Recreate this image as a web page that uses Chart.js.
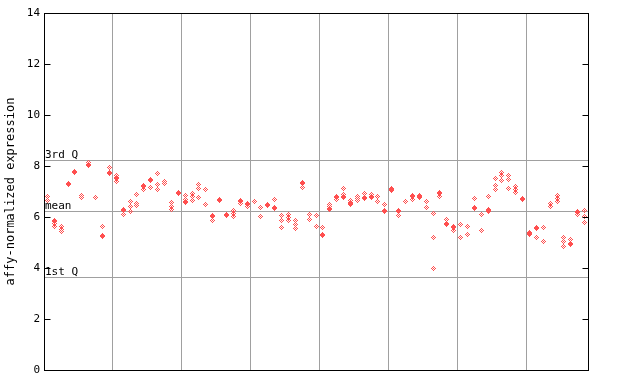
<!DOCTYPE html>
<html>
<head>
<meta charset="utf-8">
<script src="https://cdn.jsdelivr.net/npm/chart.js@4"></script>
<style>
  html, body { margin: 0; padding: 0; background: #ffffff; }
  canvas { display: block; }
</style>
</head>
<body>
<canvas id="chart" width="640" height="384"></canvas>
<script>
/* -------------------------------------------------------------------------- */
/* Data                                                                       */
/* -------------------------------------------------------------------------- */
const yTicks = [0, 2, 4, 6, 8, 10, 12, 14];
const groupEdges = [9.5, 19.5, 29.5, 39.5, 49.5, 59.5, 69.5];

const quartileLines = [
  { label: '3rd Q', value: 8.24 },
  { label: 'mean', value: 6.22 },
  { label: '1st Q', value: 3.63 }
];

// one value per sample (null where there is none)
const sampleValues = [
  null, 5.85, null, 7.28, 7.78, null, 8.03, null, 5.25, 7.74,
  7.52, 6.28, null, null, 7.23, 7.46, null, null, null, 6.93,
  6.60, null, null, null, 6.04, 6.68, 6.08, null, 6.64, 6.52,
  null, null, 6.48, 6.36, null, null, null, 7.35, null, null,
  5.29, 6.32, 6.80, 6.80, 6.56, null, 6.76, 6.80, null, 6.24,
  7.06, 6.24, null, 6.82, 6.77, null, null, 6.95, 5.72, 5.59,
  null, null, 6.36, null, 6.22, null, null, null, null, 6.72,
  5.33, 5.58, null, null, null, null, 4.94, 6.21, null
];

// replicate measurements per sample
const replicateValues = [
  [6.80, 6.63], [5.73, 5.62], [5.63, 5.52, 5.45], [], [],
  [6.86, 6.76], [8.15], [6.77], [5.64], [7.95],
  [7.62, 7.40], [6.11], [6.61, 6.40, 6.22], [6.90, 6.54, 6.44], [7.06],
  [7.16], [7.69, 7.27, 7.07], [7.40, 7.33], [6.56, 6.43, 6.30], [],
  [6.85, 6.70], [6.93, 6.82, 6.64], [7.26, 7.12, 6.77], [7.06, 6.50], [5.88],
  [], [], [6.27, 6.14, 6.02], [6.54], [6.42],
  [6.59], [6.36, 6.02], [], [6.67], [6.04, 5.85, 5.59],
  [6.11, 6.00, 5.85], [5.88, 5.72, 5.55], [7.16], [6.11, 5.91], [6.04, 5.64],
  [5.59], [6.50, 6.40], [6.69], [7.12, 6.90], [6.63, 6.48],
  [6.82, 6.72, 6.63], [6.93], [6.89], [6.80, 6.60], [6.48],
  [7.12], [6.06], [6.61], [6.69], [6.86],
  [6.61, 6.38], [6.14, 5.20, 3.98], [6.82], [5.91], [5.49],
  [5.71, 5.20], [5.64, 5.32], [6.73], [6.11, 5.49], [6.82, 6.30],
  [7.52, 7.23, 7.09], [7.75, 7.62, 7.45], [7.61, 7.48, 7.12], [7.19, 7.06, 6.95], [],
  [5.40], [5.20], [5.59, 5.03], [6.54, 6.40], [6.86, 6.73, 6.61],
  [5.20, 5.03, 4.86], [5.12], [6.08], [6.24, 6.02, 5.80]
];

/* -------------------------------------------------------------------------- */
/* Pixel diamond markers                                                      */
/* -------------------------------------------------------------------------- */
function makeMarker(rows, color) {
  const c = document.createElement('canvas');
  c.width = rows[0].length;
  c.height = rows.length;
  const g = c.getContext('2d');
  g.fillStyle = color;
  rows.forEach((row, j) => {
    [...row].forEach((ch, i) => { if (ch === 'X') g.fillRect(i, j, 1, 1); });
  });
  return c;
}

const RED = '#ff4f4f';
const solidMarker = makeMarker([
  '..X..',
  '.XXX.',
  'XXXXX',
  'XXXXX',
  '.XXX.',
  '..X..'
], RED);
const checkMarker = makeMarker([
  '..X..',
  '.X.X.',
  'X.X.X',
  '.X.X.',
  '..X..'
], RED);

const FONT = "'DejaVu Sans Mono', monospace";

/* -------------------------------------------------------------------------- */
/* Frame, inward ticks and quartile lines                                     */
/* -------------------------------------------------------------------------- */
const decor = {
  id: 'decor',
  beforeDatasetsDraw(chart) {
    const { ctx, chartArea: a, scales: { y } } = chart;
    ctx.save();
    ctx.strokeStyle = '#a0a0a0';
    ctx.lineWidth = 1;
    ctx.fillStyle = '#000000';
    ctx.font = '11px ' + FONT;
    ctx.textBaseline = 'bottom';
    quartileLines.forEach(q => {
      const py = Math.round(y.getPixelForValue(q.value)) + 0.5;
      ctx.beginPath();
      ctx.moveTo(a.left, py);
      ctx.lineTo(a.right, py);
      ctx.stroke();
      ctx.fillText(q.label, a.left + 1, py);
    });
    ctx.restore();
    ctx.imageSmoothingEnabled = false;
  },
  afterDatasetsDraw(chart) {
    const { ctx, chartArea: a, scales: { y } } = chart;
    ctx.save();
    ctx.strokeStyle = '#000000';
    ctx.lineWidth = 1;
    const l = Math.round(a.left) + 0.5, r = Math.round(a.right) + 0.5;
    const t = Math.round(a.top) + 0.5, b = Math.round(a.bottom) + 0.5;
    ctx.strokeRect(l, t, r - l, b - t);
    ctx.beginPath();
    yTicks.forEach(v => {
      const py = Math.round(y.getPixelForValue(v)) + 0.5;
      ctx.moveTo(l, py); ctx.lineTo(l + 6, py);
      ctx.moveTo(r - 6, py); ctx.lineTo(r, py);
    });
    ctx.stroke();
    ctx.restore();
  }
};

/* -------------------------------------------------------------------------- */
/* Chart                                                                      */
/* -------------------------------------------------------------------------- */
const replicatePoints = [];
replicateValues.forEach((vals, i) => vals.forEach(v => replicatePoints.push({ x: i, y: v })));
const samplePoints = [];
sampleValues.forEach((v, i) => { if (v !== null) samplePoints.push({ x: i, y: v }); });

new Chart(document.getElementById('chart'), {
  type: 'scatter',
  data: {
    datasets: [
      {
        label: 'replicates',
        data: replicatePoints,
        pointStyle: checkMarker,
        pointRadius: 3,
        pointHoverRadius: 3
      },
      {
        label: 'samples',
        data: samplePoints,
        pointStyle: solidMarker,
        pointRadius: 3,
        pointHoverRadius: 3
      }
    ]
  },
  options: {
    responsive: false,
    animation: false,
    devicePixelRatio: 1,
    layout: { padding: { left: 0, right: 52, top: 13, bottom: 14 } },
    plugins: { legend: { display: false }, tooltip: { enabled: false } },
    scales: {
      x: {
        type: 'linear',
        min: -0.5,
        max: replicateValues.length - 0.5,
        afterBuildTicks: s => { s.ticks = groupEdges.map(v => ({ value: v })); },
        afterFit: s => { s.height = 0; },
        grid: { color: '#a0a0a0', lineWidth: 1, drawTicks: false },
        border: { display: false },
        ticks: { display: false }
      },
      y: {
        min: 0,
        max: 14,
        afterBuildTicks: s => { s.ticks = yTicks.map(v => ({ value: v })); },
        afterFit: s => { s.width = 44; },
        grid: { display: false, drawTicks: false },
        border: { display: false },
        ticks: { color: '#000000', padding: 4, font: { family: FONT, size: 11 } },
        title: {
          display: true,
          text: 'affy-normalized expression',
          color: '#000000',
          padding: { top: 4, bottom: 0 },
          font: { family: FONT, size: 12 }
        }
      }
    }
  },
  plugins: [decor]
});
</script>
</body>
</html>
